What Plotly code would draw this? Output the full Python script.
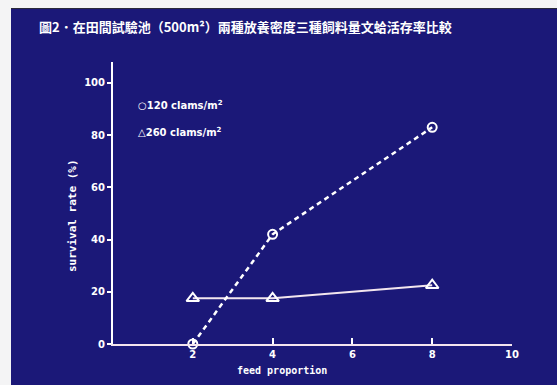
import plotly.graph_objects as go

feed = [2, 4, 8]
survival_120 = [0, 42, 83]
survival_260 = [17.5, 17.5, 22.5]
x_ticks = [2, 4, 6, 8, 10]
y_ticks = [0, 20, 40, 60, 80, 100]

BLUE = "#1b1878"
OX, OY = 11, 9          # white scan margins (left, top) of the page
W, H = 557 - OX, 385 - OY
ML, MR, MT, MB = 113 - OX, 45, 62 - OY, 41

def px_x(p):
    return (p - OX - ML) / (W - ML - MR)

def px_y(p):
    return (H - MB - (p - OY)) / (H - MT - MB)

fig = go.Figure()
fig.add_trace(go.Scatter(
    x=feed, y=survival_260, mode="lines+markers",
    line=dict(color="#f3e6ee", width=2),
    marker=dict(symbol="triangle-up-open", size=11, color="white", line=dict(width=2, color="white")),
    showlegend=False, cliponaxis=False))
fig.add_trace(go.Scatter(
    x=feed, y=survival_120, mode="lines+markers",
    line=dict(color="white", width=2.5, dash="5px,4px"),
    marker=dict(symbol="circle-open", size=9, color="white", line=dict(width=2, color="white")),
    showlegend=False, cliponaxis=False))

font_tick = dict(family="DejaVu Sans", size=10, color="white", weight="bold")

fig.update_xaxes(range=[0, 10], tickvals=x_ticks, ticktext=[str(v) for v in x_ticks],
                 showgrid=False, zeroline=False, showline=True, linecolor="#f4e4ee", linewidth=2,
                 ticks="inside", ticklen=6, tickwidth=2, tickcolor="white", tickfont=font_tick)
fig.update_yaxes(range=[0, 108], tickvals=y_ticks, ticktext=[str(v) for v in y_ticks],
                 showgrid=False, zeroline=False, showline=True, linecolor="white", linewidth=2,
                 ticks="outside", ticklen=4, tickwidth=2, tickcolor="white", tickfont=font_tick)

annotations = [
    dict(text="圖2．在田間試驗池（500m²）兩種放養密度三種飼料量文蛤活存率比較",
         xref="paper", yref="paper", x=px_x(37), y=px_y(26), xanchor="left", yanchor="middle",
         showarrow=False, font=dict(family="Noto Sans CJK TC", size=13, color="white", weight="bold")),
    dict(text="○120 clams/m<sup>2</sup>", xref="paper", yref="paper", x=px_x(136), y=px_y(105),
         xanchor="left", yanchor="middle", showarrow=False,
         font=dict(family="DejaVu Sans", size=10, color="white", weight="bold")),
    dict(text="△260 clams/m<sup>2</sup>", xref="paper", yref="paper", x=px_x(136), y=px_y(132),
         xanchor="left", yanchor="middle", showarrow=False,
         font=dict(family="DejaVu Sans", size=10, color="white", weight="bold")),
    dict(text="feed proportion", xref="paper", yref="paper", x=px_x(282), y=px_y(370),
         xanchor="center", yanchor="middle", showarrow=False,
         font=dict(family="DejaVu Sans Mono", size=10, color="white", weight="bold")),
    dict(text="survival rate (%)", xref="paper", yref="paper", x=px_x(72), y=px_y(216),
         xanchor="center", yanchor="middle", textangle=-90, showarrow=False,
         font=dict(family="DejaVu Sans Mono", size=11, color="white", weight="bold")),
]

fig.update_layout(width=W, height=H, margin=dict(l=ML, r=MR, t=MT, b=MB, pad=0),
                  paper_bgcolor=BLUE, plot_bgcolor=BLUE, annotations=annotations)

post = (
    "document.documentElement.style.background='#f4f4f5';"
    "document.body.style.background='#f4f4f5';"
    "document.body.style.margin='0';"
    "document.body.style.padding='%dpx 0 0 %dpx';"
    "document.body.style.overflow='hidden';"
    "var gd=document.getElementById('{plot_id}');"
    "gd.style.borderTop='1px solid #2a2a3a';"
) % (OY - 1, OX)

fig.write_html("out.html", config={"displayModeBar": False}, post_script=post)
